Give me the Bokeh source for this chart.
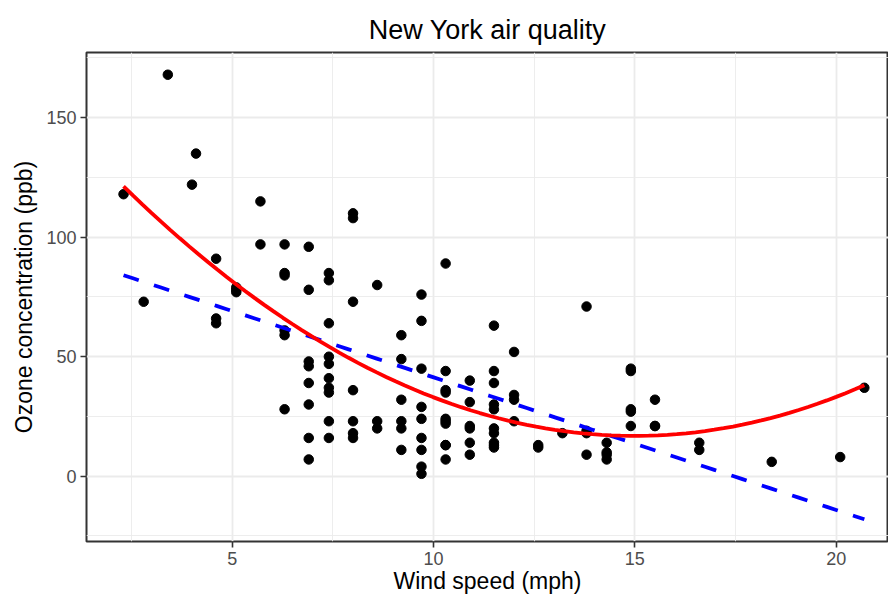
import numpy as np
from bokeh.plotting import figure
from bokeh.models import Range1d, FixedTicker
from bokeh.embed import file_html
from bokeh.resources import INLINE

# airquality (complete Ozone cases): wind speed (mph) and ozone (ppb)
wind = [7.4, 8.0, 12.6, 11.5, 14.9, 8.6, 13.8, 20.1, 6.9, 9.7, 9.2, 10.9, 13.2, 11.5,
        12.0, 18.4, 11.5, 9.7, 9.7, 16.6, 9.7, 12.0, 12.0, 14.9, 5.7, 7.4, 9.7, 13.8,
        11.5, 8.0, 14.9, 20.7, 9.2, 11.5, 10.3, 4.1, 9.2, 9.2, 4.6, 10.9, 5.1, 6.3,
        5.7, 7.4, 14.3, 14.9, 14.3, 6.9, 10.3, 6.3, 5.1, 11.5, 6.9, 8.6, 8.0, 8.6,
        12.0, 7.4, 7.4, 7.4, 9.2, 6.9, 13.8, 7.4, 6.9, 7.4, 4.6, 4.0, 10.3, 8.0,
        11.5, 11.5, 9.7, 10.3, 6.3, 7.4, 10.9, 10.3, 15.5, 14.3, 9.7, 3.4, 8.0, 9.7,
        2.3, 6.3, 6.3, 6.9, 5.1, 2.8, 4.6, 7.4, 15.5, 10.9, 10.3, 10.9, 9.7, 14.9,
        15.5, 6.3, 10.9, 11.5, 6.9, 13.8, 10.3, 10.3, 8.0, 12.6, 9.2, 10.3, 10.3,
        16.6, 6.9, 14.3, 8.0, 11.5]
ozone = [41, 36, 12, 18, 28, 23, 19, 8, 7, 16, 11, 14, 18, 14,
         34, 6, 30, 11, 1, 11, 4, 32, 23, 45, 115, 37, 29, 71,
         39, 23, 21, 37, 20, 12, 13, 135, 49, 32, 64, 40, 77, 97,
         97, 85, 10, 27, 7, 48, 35, 61, 79, 63, 16, 80, 108, 20,
         52, 82, 50, 64, 59, 39, 9, 16, 78, 35, 66, 122, 89, 110,
         44, 28, 65, 22, 59, 23, 31, 44, 21, 9, 45, 168, 73, 76,
         118, 84, 85, 96, 78, 73, 91, 47, 32, 20, 23, 21, 24, 44,
         21, 28, 9, 13, 46, 18, 13, 24, 16, 13, 23, 36, 7,
         14, 30, 14, 18, 20]

x_ticks = [5, 10, 15, 20]
x_minor = [2.5, 7.5, 12.5, 17.5]
y_ticks = [0, 50, 100, 150]
y_minor = [-25, 25, 75, 125, 175]

wx = np.array(wind)
oy = np.array(ozone)
# regression fits (linear and quadratic), as drawn by the original chart
lin = np.polyfit(wx, oy, 1)
quad = np.polyfit(wx, oy, 2)
xs = np.linspace(wx.min(), wx.max(), 80)
y_lin = np.polyval(lin, xs)
y_quad = np.polyval(quad, xs)

p = figure(width=888, height=597, output_backend="svg", toolbar_location=None,
           x_range=Range1d(1.38, 21.30), y_range=Range1d(-27.33, 177.3),
           min_border_left=86, min_border_right=0, min_border_top=52, min_border_bottom=56,
           title="New York air quality")
p.background_fill_color = "white"
p.border_fill_color = "white"
p.outline_line_color = "#333333"
p.outline_line_width = 2

p.title.text_font = "Liberation Sans"
p.title.text_font_size = "27px"
p.title.text_font_style = "normal"
p.title.text_color = "black"
p.title.align = "center"
p.title.standoff = 16

p.xaxis.ticker = FixedTicker(ticks=x_ticks, minor_ticks=x_minor)
p.yaxis.ticker = FixedTicker(ticks=y_ticks, minor_ticks=y_minor)
for ax in (p.xaxis[0], p.yaxis[0]):
    ax.axis_line_color = None
    ax.minor_tick_line_color = None
    ax.major_tick_line_color = "#333333"
    ax.major_tick_line_width = 1.6
    ax.major_tick_out = 6
    ax.major_tick_in = 0
    ax.major_label_text_font = "Liberation Sans"
    ax.major_label_text_font_size = "18px"
    ax.major_label_text_color = "#4D4D4D"
    ax.major_label_standoff = 4
    ax.axis_label_text_font = "Liberation Sans"
    ax.axis_label_text_font_size = "23px"
    ax.axis_label_text_font_style = "normal"
    ax.axis_label_text_color = "black"
p.xaxis.axis_label_standoff = 0
p.yaxis.axis_label_standoff = 6
p.xaxis.axis_label = "Wind speed (mph)"
p.yaxis.axis_label = "Ozone concentration (ppb)"

for g in (p.xgrid[0], p.ygrid[0]):
    g.grid_line_color = "#EBEBEB"
    g.grid_line_width = 1.8
    g.minor_grid_line_color = "#EBEBEB"
    g.minor_grid_line_width = 0.9

p.scatter(wind, ozone, size=9.5, color="black")
p.line(xs, y_lin, line_color="blue", line_width=3.8, line_dash="16 16")
p.line(xs, y_quad, line_color="red", line_width=3.8)

open("out.html", "w").write(file_html(p, INLINE))
